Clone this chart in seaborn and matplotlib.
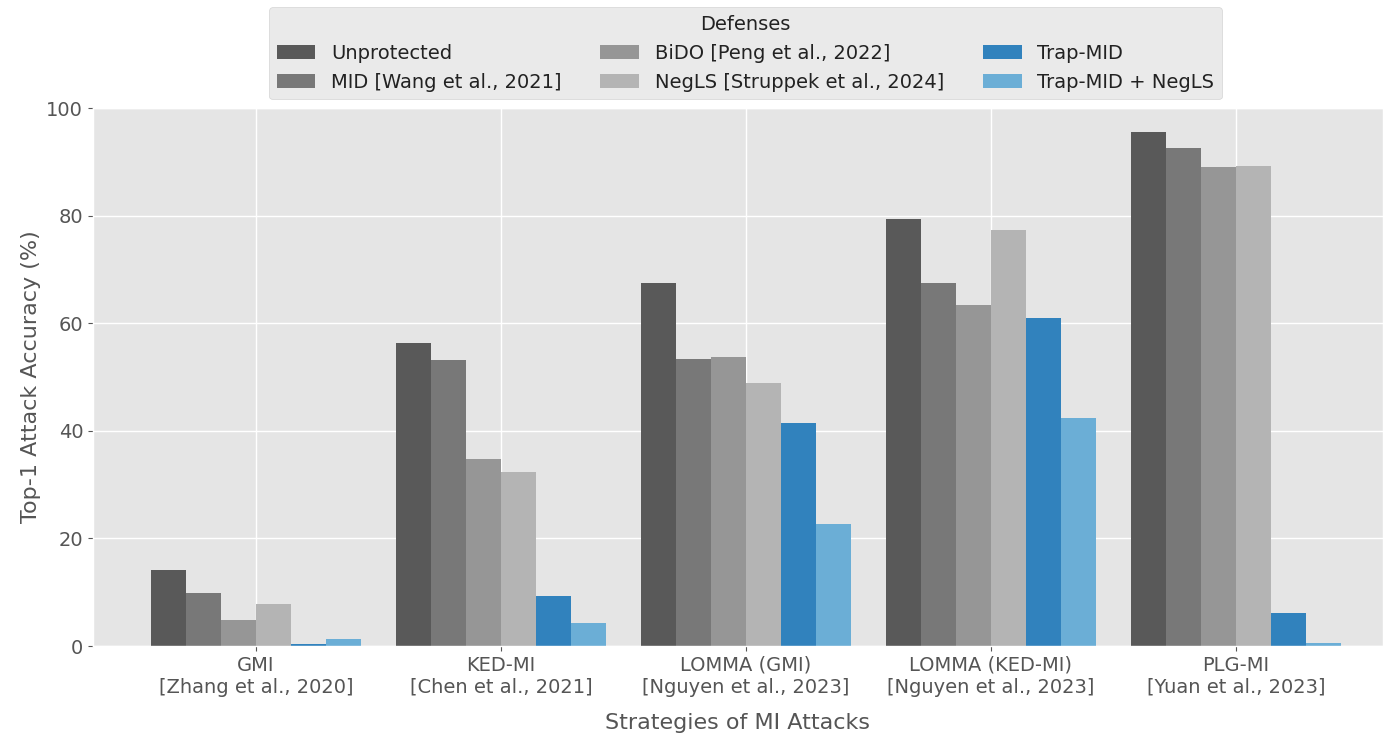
import numpy as np
import pandas as pd
import seaborn as sns
from matplotlib import pyplot as plt

attacks = ['GMI\n[Zhang et al., 2020]', 'KED-MI\n[Chen et al., 2021]',
           'LOMMA (GMI)\n[Nguyen et al., 2023]', 'LOMMA (KED-MI)\n[Nguyen et al., 2023]',
           'PLG-MI\n[Yuan et al., 2023]']
defenses = ['Unprotected', 'MID [Wang et al., 2021]', 'BiDO [Peng et al., 2022]',
            'NegLS [Struppek et al., 2024]', 'Trap-MID', 'Trap-MID + NegLS']

unprotected = [14.1, 56.3, 67.5, 79.4, 95.5]
mid = [9.9, 53.2, 53.3, 67.5, 92.6]
bido = [4.8, 34.8, 53.7, 63.4, 89.0]
negls = [7.8, 32.3, 48.9, 77.3, 89.2]
trap_mid = [0.3, 9.3, 41.4, 61.0, 6.1]
trap_negls = [1.3, 4.3, 22.7, 42.4, 0.6]

colors = ['#595959', '#787878', '#969696', '#b4b4b4', '#3182bd', '#6baed6']

series = [unprotected, mid, bido, negls, trap_mid, trap_negls]
rows = []
for d, vals in zip(defenses, series):
    for a, v in zip(attacks, vals):
        rows.append({'attack': a, 'defense': d, 'acc': v})
df = pd.DataFrame(rows)

plt.style.use('ggplot')
fig = plt.figure(figsize=(13.83, 7.44), dpi=100)
ax = fig.add_axes([0.0672, 0.1317, 0.9328, 0.7231])

sns.barplot(data=df, x='attack', y='acc', hue='defense', hue_order=defenses,
            palette=colors, width=0.86, gap=0, saturation=1, ax=ax)

ax.set_xlim(-0.665, 4.6)
ax.set_ylim(0, 100)
ax.set_yticks([0, 20, 40, 60, 80, 100])
ax.grid(True, axis='both', color='white', linewidth=1.0)
ax.set_axisbelow(True)
ax.tick_params(labelsize=14, colors='#555555')
ax.set_xlabel('Strategies of MI Attacks', fontsize=16, color='#555555', labelpad=12)
ax.set_ylabel('Top-1 Attack Accuracy (%)', fontsize=16, color='#555555')

ax.get_legend().remove()
handles, labels = ax.get_legend_handles_labels()
leg = fig.legend(handles, labels, loc='upper center', bbox_to_anchor=(0.539, 1.003),
                 ncol=3, fontsize=14, title='Defenses', title_fontsize=14,
                 frameon=True, columnspacing=2.0)
leg.get_frame().set_facecolor('#e5e5e5')
leg.get_frame().set_edgecolor('#cccccc')
for t in leg.get_texts():
    t.set_color('#222222')
leg.get_title().set_color('#222222')

plt.savefig('out.png', dpi=100)
